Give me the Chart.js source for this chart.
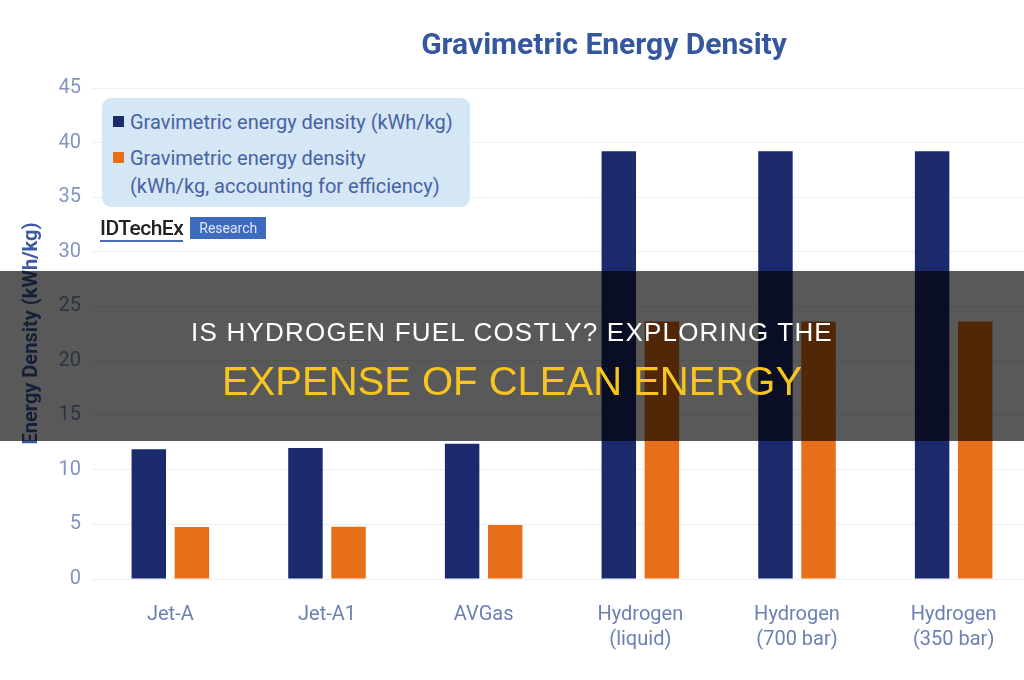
<!DOCTYPE html>
<html>
<head>
<meta charset="utf-8">
<script src="https://cdn.jsdelivr.net/npm/chart.js@4.4.1/dist/chart.umd.min.js"></script>
<style>
  html, body { margin: 0; padding: 0; background: #fff; overflow: hidden; }
  body { width: 1024px; height: 680px; position: relative; font-family: Roboto, "Liberation Sans", sans-serif; }
  #wrap { position: absolute; left: 0; top: 0; width: 1040px; height: 680px; }
  #title { position: absolute; left: 0; width: 1208px; top: 26px; text-align: center; font-size: 30px; font-weight: bold; color: #35579f; }
  #legend { position: absolute; left: 102px; top: 98px; width: 368px; height: 109px; background: #d5e6f4; border-radius: 9px; color: #4862a6; font-size: 20px; }
  .item { position: absolute; left: 11px; white-space: nowrap; }
  .sw { display: inline-block; width: 11px; height: 11px; margin-right: 6px; vertical-align: 2px; }
  #logo { position: absolute; left: 100px; top: 216px; height: 24px; font-size: 21px; }
  #logo .id { color: #222; letter-spacing: -0.5px; border-bottom: 2px solid #4a6cb3; font-weight: 500; }
  #logo .rs { display: inline-block; margin-left: 7px; background: #3d6bbf; color: #dfe8f7; font-size: 14px; padding: 3px 9px; vertical-align: 2px; }
  #banner { position: absolute; left: 0; top: 271px; width: 1024px; height: 170px; background: rgba(0,0,0,0.65); text-align: center; font-family: "Liberation Sans", Arial, sans-serif; }
  #banner .l1 { position: absolute; left: 0; right: 0; top: 46px; font-size: 26px; letter-spacing: 1.2px; color: #fff; }
  #banner .l2 { position: absolute; left: 0; right: 0; top: 88px; font-size: 40px; color: #f7c51e; }
</style>
</head>
<body>
<div id="wrap"><canvas id="chart" width="1040" height="680"></canvas></div>
<div id="title">Gravimetric Energy Density</div>
<div id="legend">
  <div class="item" style="top:12px"><span class="sw" style="background:#1b2a6c"></span>Gravimetric energy density (kWh/kg)</div>
  <div class="item" style="top:48px"><span class="sw" style="background:#e76f19"></span>Gravimetric energy density</div>
  <div class="item" style="top:76px; left:28px">(kWh/kg, accounting for efficiency)</div>
</div>
<div id="logo"><span class="id">IDTechEx</span><span class="rs">Research</span></div>
<div id="banner">
  <div class="l1">IS HYDROGEN FUEL COSTLY? EXPLORING THE</div>
  <div class="l2">EXPENSE OF CLEAN ENERGY</div>
</div>
<script>
const categories = [["Jet-A"], ["Jet-A1"], ["AVGas"], ["Hydrogen", "(liquid)"], ["Hydrogen", "(700 bar)"], ["Hydrogen", "(350 bar)"]];
const energyDensity = [11.9, 12.0, 12.4, 39.2, 39.2, 39.2];
const energyDensityEff = [4.77, 4.78, 4.95, 23.6, 23.6, 23.6];
const yTicks = [0, 5, 10, 15, 20, 25, 30, 35, 40, 45];

new Chart(document.getElementById("chart"), {
    type: "bar",
    data: {
        labels: categories,
        datasets: [
            {
                label: "Gravimetric energy density (kWh/kg)",
                data: energyDensity,
                backgroundColor: "#1b2a6c",
                categoryPercentage: 0.55,
                barPercentage: 0.8
            },
            {
                label: "Gravimetric energy density (kWh/kg, accounting for efficiency)",
                data: energyDensityEff,
                backgroundColor: "#e76f19",
                categoryPercentage: 0.55,
                barPercentage: 0.8
            }
        ]
    },
    options: {
        responsive: false,
        animation: false,
        layout: { padding: { top: 88, right: 8, left: 0, bottom: 0 } },
        plugins: {
            legend: { display: false },
            title: { display: false },
            tooltip: { enabled: false }
        },
        scales: {
            x: {
                grid: { display: false, drawTicks: false },
                border: { display: false },
                ticks: { color: "#6c80b4", font: { family: "Roboto", size: 20, lineHeight: 1.25 }, padding: 23, maxRotation: 0 },
                afterFit: (s) => { s.height = 101; }
            },
            y: {
                min: 0,
                max: 45,
                afterBuildTicks: (s) => { s.ticks = yTicks.map(v => ({ value: v })); },
                grid: { color: "#eeeeee", drawTicks: false },
                border: { display: false },
                ticks: { color: "#8294c0", font: { family: "Roboto", size: 20 }, padding: 11 },
                title: {
                    display: true,
                    text: "Energy Density (kWh/kg)",
                    color: "#3f5a9e",
                    font: { family: "Roboto", size: 20, weight: "bold" },
                    padding: { top: 20, bottom: 0 }
                },
                afterFit: (s) => { s.width = 92; }
            }
        }
    }
});
</script>
</body>
</html>
